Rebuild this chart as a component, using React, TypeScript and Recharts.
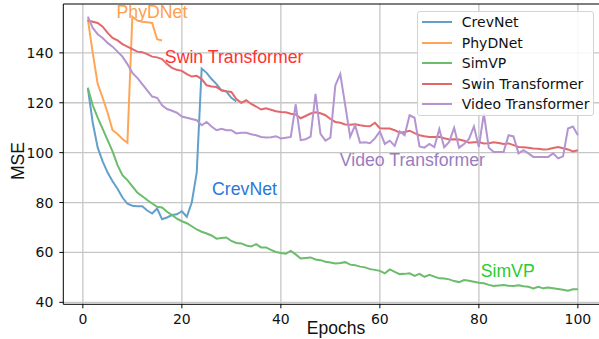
import {
  CartesianGrid,
  Legend,
  Line,
  LineChart,
  ReferenceDot,
  ReferenceLine,
  XAxis,
  YAxis,
} from 'recharts';

const epochs = Array.from({ length: 100 }, (_, i) => i + 1);

const crevNet = [
  126, 112, 102, 96.5, 92, 88.5, 85.5, 82, 79.5, 78.7,
  78.5, 78.5, 76.8, 75.6, 77.6, 73.3, 74, 75, 75.3, 76.5,
  74.3, 80, 92, 133.7, 132, 129.5, 127.5, 125, 124.5, 122,
  120.5,
];

const phyDNet = [
  153.5, 140, 127.5, 122, 116, 109, 107.5, 105.5, 104, 154.5,
  153, 152.5, 152.3, 152, 145.5, 145,
];

const simVP = [
  126, 119, 114, 109.5, 105, 100.5, 95, 91, 89, 86.5,
  84, 82.5, 81, 79.6, 78.3, 78, 76.3, 75, 73.5, 72.5,
  71.7, 70.5, 69.2, 68.3, 67.6, 66.8, 65.5, 65.8, 66, 64.6,
  63.8, 63.6, 62.8, 62.4, 63.3, 62, 62, 61, 60.2, 59.8,
  59.5, 60.6, 59.2, 57.6, 57.8, 58, 57.2, 56.9, 56.3, 56,
  55.6, 55.8, 56.1, 55.1, 54.9, 54.3, 54, 53.3, 53, 52.6,
  51.6, 53.2, 52.2, 51.3, 51.4, 51.6, 50.6, 51.4, 50.2, 51,
  50.3, 49.6, 49.5, 49.2, 48.5, 48.1, 48.9, 48.6, 48.2, 47.8,
  47.6, 47, 46.5, 46.7, 46.9, 46.6, 46.5, 46.8, 46.4, 46.2,
  45.6, 46.2, 45.6, 45.9, 45.6, 45.3, 45, 44.6, 45.2, 45.2,
];

const swin = [
  153, 152.5, 152, 150.5, 148, 146, 145, 143.5, 142.5, 141.5,
  140.5, 140.3, 139.5, 138.5, 138.2, 137.5, 135.5, 134, 133.2, 132.8,
  131.5, 130.5, 130.8, 129.5, 127, 126.5, 126.3, 125, 124.6, 124.3,
  121.5, 120, 121, 119.5, 118.5, 117.3, 117.8, 117.2, 116.6, 116.3,
  116.2, 115.6, 115.3, 113.8, 114.7, 115.7, 116.2, 115.8, 115, 113.5,
  112.3, 112, 111.3, 111.2, 111.4, 111, 110.7, 110.6, 112, 109.8,
  109.7, 109.7, 109, 108, 108.3, 108.8, 107.8, 107, 106.6, 106.3,
  106.3, 106.4, 105.8, 105.3, 105.4, 105.3, 104.8, 104, 104.2, 104.3,
  103.7, 103.8, 104.2, 103.9, 103.5, 103.7, 103, 102.3, 102.2, 102,
  101.7, 101.6, 101.3, 101.4, 101.9, 102.3, 101.8, 101.3, 100.5, 101,
];

const videoT = [
  154.5, 150, 147.5, 146, 144, 142.5, 140.5, 138.5, 135.5, 132,
  130, 127.5, 125, 122.5, 122, 119, 117.5, 116.8, 116, 114.5,
  114, 113.5, 113, 111, 112.3, 110.5, 109, 109.6, 109, 109,
  107.7, 108, 108, 107.4, 107, 106.3, 106.1, 106.2, 106.6, 105.7,
  106, 106.3, 119.4, 105, 105.4, 106.4, 123.6, 107.5, 104.8, 106,
  127, 131.5, 119, 106.3, 111, 104, 104.2, 103.8, 105.7, 108.5,
  103.5, 104.8, 102.7, 108.5, 107, 115, 114, 102.5, 102, 103.5,
  102.2, 109.5, 102.2, 104.3, 110, 102, 103.5, 105.5, 110.5, 102.3,
  115.7, 102, 100.3, 100.3, 100.3, 107, 106.5, 99.7, 101, 99.7,
  98.3, 98.3, 98.3, 98.3, 99.7, 97.7, 98.5, 109.7, 110.5, 107,
];

const xTicks = [0, 20, 40, 60, 80, 100];
const yTicks = [40, 60, 80, 100, 120, 140];

const series = [
  { key: 'CrevNet', color: '#62a0cb' },
  { key: 'PhyDNet', color: '#ffa556' },
  { key: 'SimVP', color: '#6bbc6b' },
  { key: 'Swin Transformer', color: '#e2686a' },
  { key: 'Video Transformer', color: '#b495d1' },
];

const notes = [
  { text: 'PhyDNet', x: 6.8, y: 153.8, color: '#ffa04d' },
  { text: 'Swin Transformer', x: 16.56, y: 135.75, color: '#ff3333' },
  { text: 'Video Transformer', x: 51.9, y: 94.6, color: '#9b7cc0' },
  { text: 'CrevNet', x: 26.1, y: 83.0, color: '#2a78d6' },
  { text: 'SimVP', x: 80.36, y: 50.2, color: '#2ccc2c' },
];

const rows = epochs.map((epoch, i) => ({
  epoch,
  CrevNet: crevNet[i],
  PhyDNet: phyDNet[i],
  SimVP: simVP[i],
  'Swin Transformer': swin[i],
  'Video Transformer': videoT[i],
}));

const X_DOMAIN: [number, number] = [-3.95, 104.95];
const Y_DOMAIN: [number, number] = [39.2, 159.6];
const tickFont = { fontFamily: 'DejaVu Sans', fontSize: 14, fill: '#111' };
const noteFont = 'Liberation Sans, Arial, sans-serif';

function LegendBox() {
  return (
    <div
      style={{
        width: 177,
        height: 105,
        boxSizing: 'border-box',
        background: 'rgba(255,255,255,0.85)',
        border: '1px solid #d4d4d4',
        borderRadius: 3,
        paddingTop: 0.5,
        fontFamily: 'DejaVu Sans',
        fontSize: 14,
        color: '#111',
      }}
    >
      {series.map((s) => (
        <div key={s.key} style={{ display: 'flex', alignItems: 'center', height: 20.4 }}>
          <span style={{ width: 30, height: 2, background: s.color, marginLeft: 3.5, marginRight: 10 }} />
          <span style={{ whiteSpace: 'nowrap' }}>{s.key}</span>
        </div>
      ))}
    </div>
  );
}

export default function App() {
  return (
    <div style={{ position: 'fixed', left: 0, top: 0, width: 599, height: 339, overflow: 'hidden', background: '#fff' }}>
      <LineChart width={610} height={339} data={rows} margin={{ top: 4, right: 7.6, bottom: 4.7, left: 0 }}>
        <CartesianGrid stroke="#c6c6c6" strokeWidth={1.3} horizontalValues={yTicks} verticalValues={xTicks} />
        <XAxis
          dataKey="epoch"
          type="number"
          domain={X_DOMAIN}
          ticks={xTicks}
          allowDataOverflow
          height={30}
          stroke="#000"
          tickSize={4}
          tickMargin={6}
          tick={tickFont}
          label={({ viewBox }: any) => (
            <text x={336} y={334} textAnchor="middle" fontFamily={noteFont} fontSize={17.5} fill="#111">
              Epochs
            </text>
          )}
        />
        <YAxis
          type="number"
          domain={Y_DOMAIN}
          ticks={yTicks}
          allowDataOverflow
          width={63.3}
          stroke="#000"
          tickSize={4}
          tickMargin={6}
          tick={tickFont}
          label={() => (
            <text
              x={24}
              y={161}
              transform="rotate(-90 24 161)"
              textAnchor="middle"
              fontFamily={noteFont}
              fontSize={17.5}
              fill="#111"
            >
              MSE
            </text>
          )}
        />
        <ReferenceLine y={Y_DOMAIN[1]} stroke="#000" strokeWidth={1.2} ifOverflow="visible" />
        {series.map((s) => (
          <Line
            key={s.key}
            dataKey={s.key}
            type="linear"
            stroke={s.color}
            strokeWidth={2}
            dot={false}
            isAnimationActive={false}
          />
        ))}
        {notes.map((n) => (
          <ReferenceDot
            key={n.text}
            x={n.x}
            y={n.y}
            r={0}
            fill="none"
            stroke="none"
            label={({ viewBox }: any) => (
              <text x={viewBox.x} y={viewBox.y} fontFamily={noteFont} fontSize={17.7} fill={n.color}>
                {n.text}
              </text>
            )}
          />
        ))}
        <Legend
          layout="vertical"
          align="center"
          verticalAlign="middle"
          content={() => <LegendBox />}
          wrapperStyle={{ position: 'absolute', left: 417.3, top: 10.7, width: 178, height: 106 }}
        />
      </LineChart>
    </div>
  );
}
